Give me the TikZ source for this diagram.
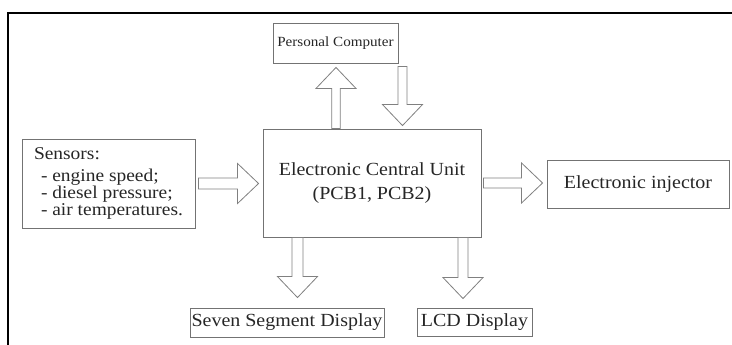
\documentclass[tikz,border=0pt]{standalone}
\usepackage{fontspec}
\setmainfont{Liberation Serif}[FakeStretch=1.08]
\usetikzlibrary{calc}

% hollow block arrow: [shaft half width]{from}{to}
\newcommand{\fatarrow}[3][5]{%
  \draw[fatarr] let \p1=(#2), \p2=(#3), \n1={veclen(\x2-\x1,\y2-\y1)}, \n2={atan2(\y2-\y1,\x2-\x1)} in
    [shift={(\p1)}, rotate=\n2]
    (0,#1) -- (\n1-21,#1) -- (\n1-21,20) -- (\n1,0) -- (\n1-21,-20) -- (\n1-21,-#1) -- (0,-#1) -- cycle;
}

\begin{document}
\begin{tikzpicture}[x=1pt,y=-1pt]
  \tikzstyle{box}=[draw=black!55, line width=0.9pt, inner sep=0pt, text=black!85, font=\fontsize{18.5}{24}\selectfont]
  \tikzstyle{fatarr}=[draw=black!50, line width=0.8pt, fill=white, line join=miter]
  \useasboundingbox (0,0) rectangle (732,345);

  % frame
  \draw[line width=2pt] (8,345) -- (8,13) -- (732,13);

  % blocks
  \node[box, minimum width=218pt, minimum height=108pt, align=center] (ecu) at (372,183) {Electronic Central Unit\\(PCB1, PCB2)};
  \node[box, minimum width=125pt, minimum height=40pt, font=\fontsize{14}{16}\selectfont] (pc) at (335.5,43) {Personal Computer};
  \node[box, minimum width=173pt, minimum height=89pt, align=left, font=\fontsize{18}{15}\selectfont] (sensors) at (108.5,183.5)
    {Sensors:\\[7pt]\hspace*{7pt}- engine speed;\\\hspace*{7pt}- diesel pressure;\\\hspace*{7pt}- air temperatures.};
  \node[box, minimum width=182pt, minimum height=48pt] (inj) at (638,184) {Electronic injector};
  \node[box, minimum width=194pt, minimum height=29pt] (seg) at (287,322.5) {Seven Segment Display};
  \node[box, minimum width=115pt, minimum height=28pt] (lcd) at (474.5,322) {LCD Display};

  % arrow ends
  \coordinate (l1) at ($(sensors.east)+(3,0)$);
  \coordinate (l2) at ($(ecu.west |- l1)+(-4,0)$);
  \coordinate (r1) at ($(ecu.east)+(2,0)$);
  \coordinate (r2) at ($(inj.west |- r1)+(-4,0)$);
  \coordinate (u1) at ($(ecu.north)+(-36,0)$);
  \coordinate (u2) at ($(u1 |- pc.south)+(0,4)$);
  \coordinate (d2) at ($(ecu.north)+(30.5,-3)$);
  \coordinate (d1) at ($(d2 |- pc.south)+(0,3)$);
  \coordinate (b1) at ($(ecu.south)+(-74.5,0)$);
  \coordinate (b2) at ($(b1 |- seg.north)+(0,-10)$);
  \coordinate (b3) at ($(ecu.south)+(91,0)$);
  \coordinate (b4) at ($(b3 |- lcd.north)+(0,-9)$);

  % arrows
  \fatarrow[5.5]{l1}{l2}
  \fatarrow{r1}{r2}
  \fatarrow[4.3]{u1}{u2}
  \fatarrow[4.5]{d1}{d2}
  \fatarrow[5.5]{b1}{b2}
  \fatarrow[5]{b3}{b4}
\end{tikzpicture}
\end{document}
